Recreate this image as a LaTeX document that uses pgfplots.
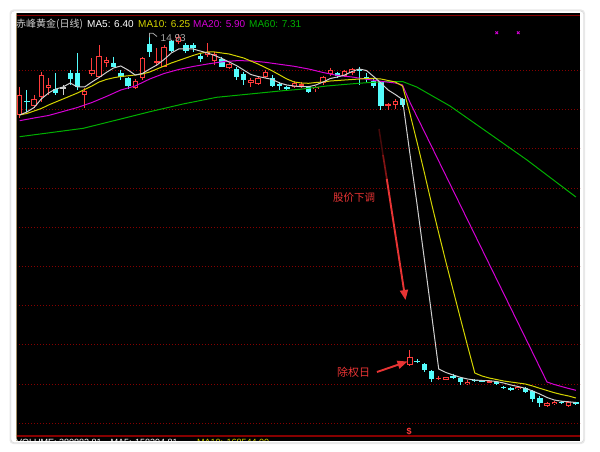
\documentclass[border=0pt]{standalone}
\usepackage{pgfplots}
\usepackage{pgfplotstable}
\pgfplotsset{compat=1.18}
\usetikzlibrary{arrows.meta}
\usepackage{fontspec}
\setmainfont{Liberation Sans}
\newfontfamily\cjk{Noto Sans CJK SC}

\definecolor{upred}{HTML}{FF3C3C}
\definecolor{dncyan}{HTML}{54FCFC}
\definecolor{ma5}{HTML}{D0D0D0}
\definecolor{ma10}{HTML}{D4D400}
\definecolor{ma20}{HTML}{D400D4}
\definecolor{ma60}{HTML}{00B000}
\definecolor{gridred}{HTML}{860000}
\definecolor{note}{HTML}{E83434}

% candles in screen units (y grows downward): body top/bottom, high, low
\pgfplotstableread{
x top bot hi lo
19.6 95 115 86.7 118
34.1 99.3 106 95 108.3
41.3 75 96.7 71.7 101.7
48.5 85 88 78 95
84.6 90.7 95 88.3 108.3
91.9 70 74.3 58.3 76
99.1 56 76.7 45 78.3
106.3 60 62.7 56.7 66.7
135.2 81 88.3 79.3 89.3
142.4 58.3 78 57.5 80
156.9 60.7 62.7 48.3 66
164.1 47.3 66.7 45 67.3
178.6 36.7 42 34.5 44
207.5 51.7 55 43.3 56.7
214.7 54 60.7 51.7 65
229.1 64.3 68.3 63 69.5
250.8 80 83.3 78.3 86.7
258.0 77.7 84.3 76.7 85
265.3 71.7 76.7 70 78
294.2 82.7 86.7 81 87.7
301.4 84.3 86.3 81.7 87.7
315.8 86.7 89.3 85.7 92.3
323.1 76.7 83.3 75.7 85
330.3 70 74.3 67.7 75.7
344.7 71 75.7 70 76.7
352.0 69 73.3 67.7 75
388.1 104.3 106 103.3 109.5
395.3 100.5 105 99 109
409.8 356.7 364.7 350 366
438.7 377.7 379 375.5 379.5
445.9 377.3 379.5 377 380
467.6 381.5 384.3 380 385
489.2 381.2 382.5 380.5 383
518.1 387 389.3 386 390
547.0 403 405.5 402 407
554.3 401.7 404 401 404.5
568.7 402.3 405.5 400.5 407
}\upc

\pgfplotstableread{
x top bot hi lo
26.8 100.5 102 90 112
55.7 89.3 93.3 73.3 95
70.2 73.3 79.3 70 85
77.4 72.7 87.3 53.3 90
113.5 63.3 66.7 56.7 67.3
120.8 73.3 77.3 70 80
128.0 78.3 86 76.7 89.3
149.7 44.5 51.7 33.5 57.5
171.3 40.7 50.7 40 51.7
185.8 45 50.7 43.3 53.3
193.0 45 48.3 43.3 51.7
200.2 56 59.3 53.3 61.7
221.9 59 66.7 56.7 67.3
236.4 69.3 76.7 66.7 80
243.6 74.3 80 71.7 85
272.5 77.7 85.7 75 86.7
279.7 84.5 85.8 81.7 90
286.9 86.7 89 85.7 90
308.6 86.7 92.3 85.7 93.3
337.5 73.3 76 71.7 77.7
359.2 69.5 70.8 66.7 85
366.4 76.7 79 73.3 81.7
373.6 81 85.7 79 87.7
380.9 82.5 106 81.7 109.5
402.5 99.3 104.5 97.7 106.7
417.0 360.5 361.8 359.3 362.7
424.2 364.3 370 363.3 371.7
431.4 370.7 379.3 370 381.7
453.1 376.2 377.5 373.5 379
460.3 378.3 381.7 376.7 385
474.8 379.5 381 379 381.5
482.0 380 381.5 379.5 382
496.5 381.7 384.3 381 385
503.7 387 388.3 386 389.3
510.9 388.3 389.7 387.3 391
525.4 388.3 391.7 387.3 392.7
532.6 390.7 399.3 390 401.7
539.8 398.3 403 395.7 407
561.5 401.7 403.3 400.7 404
575.9 402.3 403.5 401.5 404.5
}\dnc

\pgfplotstableread{
x top bot hi lo
63.0 87.5 88.7 85 95
}\doji

\pgfplotsset{
  candle/.style 2 args={draw=none, mark=none, forget plot,
    error bars/.cd, y dir=plus, y explicit, error mark=none,
    error bar style={draw=#1, line width=#2}},
}

\begin{document}
\begin{tikzpicture}[font=\fontsize{10}{12}\selectfont]
\begin{axis}[
  scale only axis, width=600pt, height=452pt,
  xmin=0, xmax=600, ymin=0, ymax=452, y dir=reverse,
  hide axis,
]
% frame and panel
\fill[white] (0,0) rectangle (600,452);
\draw[rounded corners=3pt, draw=gray!18, line width=2pt] (10.5,10.5) rectangle (584,443);
\draw[rounded corners=3pt, draw=gray!35, fill=white] (11,11) rectangle (583.5,442.5);
\fill[black] (15.5,13.3) rectangle (580.3,440.5);
\pgfplotsinvokeforeach{70.5,109.7,148.9,188.1,227.3,266.5,305.7,344.9,384.1,423.3}{
  \draw[gridred, line width=1pt, dash pattern=on 1pt off 2pt] (16,#1) -- (580,#1);
}
\draw[gridred, line width=1.6pt] (15.5,15.5) -- (580.3,15.5);
\draw[gridred, line width=1.8pt] (15.5,436) -- (580.3,436);
\draw[color={rgb,255:red,160;green,140;blue,100}, line width=0.8pt] (15.9,13.3) -- (15.9,440.5);

% candles
\addplot [candle={upred}{1pt}] table [x=x, y=hi, y error plus expr=\thisrow{lo}-\thisrow{hi}] {\upc};
\addplot [candle={upred}{5.4pt}] table [x=x, y=top, y error plus expr=\thisrow{bot}-\thisrow{top}] {\upc};
\addplot [candle={black}{3.4pt}] table [x=x, y expr=\thisrow{top}+1, y error plus expr={max(\thisrow{bot}-\thisrow{top}-2,0)}] {\upc};
\addplot [candle={dncyan}{1pt}] table [x=x, y=hi, y error plus expr=\thisrow{lo}-\thisrow{hi}] {\dnc};
\addplot [candle={dncyan}{5.4pt}] table [x=x, y=top, y error plus expr=\thisrow{bot}-\thisrow{top}] {\dnc};
\addplot [candle={ma5}{1pt}] table [x=x, y=hi, y error plus expr=\thisrow{lo}-\thisrow{hi}] {\doji};
\addplot [candle={ma5}{5.4pt}] table [x=x, y=top, y error plus expr=\thisrow{bot}-\thisrow{top}] {\doji};

% moving averages
\addplot [ma60, line width=1pt, forget plot] coordinates {
(19.6,136.7) (50,132.7) (83.3,128.3) (116.7,120) (150,111.7) (183,104) (216.7,97.3)
(250,94) (283,90.7) (300,89.3) (326.7,86) (350,84) (366.7,82.7) (383,81.7) (403,81.7)
(416.7,87) (450,106) (490,134) (527,160) (575.9,197)};
\addplot [ma20, line width=1pt, forget plot] coordinates {
(19.6,120.7) (34.1,118) (48.5,115.5) (63,111.5) (77.4,107.5) (91.9,102.5) (106.3,96.5)
(120.8,90) (135.2,86) (149.7,79) (164.1,73.5) (178.6,69.5) (193,66.5) (207.5,64)
(221.9,61.8) (236.4,60.7) (250.8,60.8) (265.3,62.3) (279.7,64.3) (294.2,66.3)
(308.6,69) (323.1,72.5) (337.5,75.5) (352,77) (366.4,79.2) (380.9,81.3) (395.3,83)
(402.5,85) (409.8,102) (547,382) (554.3,384.5) (561.5,386.5) (568.7,388.5) (575.9,390.3)};
\addplot [ma10, line width=1pt, forget plot] coordinates {
(19.6,115) (26.8,113.5) (34.1,111) (41.3,108.5) (48.5,105) (55.7,102) (63,99) (70.2,96)
(77.4,93) (84.6,89.5) (91.9,86) (99.1,82) (106.3,79.5) (113.5,77.8) (120.8,76.5)
(128,75.8) (135.2,75) (142.4,74) (149.7,72) (156.9,69) (164.1,66) (171.3,63) (178.6,60.5)
(185.8,58) (193,55.5) (200.2,53.3) (207.5,52) (214.7,52) (221.9,53) (229.1,54) (236.4,56)
(243.6,58) (250.8,61) (258,64) (265.3,67.5) (272.5,71) (279.7,75) (286.9,79) (294.2,82)
(301.4,83) (308.6,83.3) (315.8,82.5) (323.1,82) (330.3,81) (337.5,80.5) (344.7,80)
(352,79.5) (359.2,79) (366.4,78.5) (373.6,78.5) (380.9,79) (388.1,80.5) (395.3,82)
(402.5,86) (409.8,113) (417,142) (424.2,172) (431.4,203) (438.7,233) (445.9,262)
(453.1,290) (460.3,318) (467.6,346) (474.8,373) (482,376) (489.2,378) (496.5,379.5)
(503.7,381) (510.9,382) (518.1,383) (525.4,384) (532.6,386) (539.8,388.3) (547,390.5)
(554.3,392.7) (561.5,394.5) (568.7,396) (575.9,398)};
\addplot [ma5, line width=1pt, forget plot] coordinates {
(19.6,115) (26.8,112) (34.1,107.5) (41.3,99) (48.5,93) (55.7,89) (63,87) (70.2,83)
(77.4,87) (84.6,87) (91.9,82) (99.1,77.5) (106.3,72.5) (113.5,68) (120.8,66) (128,70)
(135.2,75) (142.4,73.5) (149.7,69) (156.9,65) (164.1,59.5) (171.3,53) (178.6,49)
(185.8,49) (193,49) (200.2,51) (207.5,53) (214.7,55.5) (221.9,58.5) (229.1,62)
(236.4,65.5) (243.6,70) (250.8,74.5) (258,76.5) (265.3,78) (272.5,79.5) (279.7,83)
(286.9,85) (294.2,86) (301.4,86.7) (308.6,86.7) (315.8,85) (323.1,82) (330.3,78.5)
(337.5,77) (344.7,75) (352,71.5) (359.2,69) (366.4,70.5) (373.6,76.5) (380.9,83)
(388.1,90) (395.3,94.5) (402.5,99.5) (409.8,153) (417,204) (424.2,258) (431.4,313)
(438.7,369) (445.9,372.5) (453.1,375) (460.3,377.3) (467.6,379) (474.8,380) (482,380.5)
(489.2,380.7) (496.5,381.5) (503.7,383) (510.9,385) (518.1,386.5) (525.4,388.3)
(532.6,391) (539.8,394) (547,397.5) (554.3,400) (561.5,401.2) (568.7,401.8) (575.9,402.5)};

% header
\node[anchor=west, inner sep=0, text=ma5] at (16,24) {\cjk 赤峰黄金(日线)};
\node[anchor=west, inner sep=0, text=white] at (87,24) {MA5: 6.40};
\node[anchor=west, inner sep=0, text=ma10] at (138,24) {MA10: 6.25};
\node[anchor=west, inner sep=0, text=ma20] at (193,24) {MA20: 5.90};
\node[anchor=west, inner sep=0, text=ma60] at (249,24) {MA60: 7.31};

% high marker
\draw[gray!70, line width=0.8pt] (149.5,37.5) -- (149.5,33.3) -- (153,33.3) -- (157,36.5);
\node[anchor=west, inner sep=0, text=gray!70] at (160.5,38.3) {14.93};

% small markers at top right
\draw[ma20, line width=0.9pt] (495.4,31.4) -- (498,34) (495.4,34) -- (498,31.4);
\draw[ma20, line width=0.9pt] (517,31.4) -- (519.6,34) (517,34) -- (519.6,31.4);

% annotations
\node[anchor=west, inner sep=0, text=note, font=\cjk\fontsize{10.5}{12}\selectfont] at (333,198) {股价下调};
\draw[color={rgb,255:red,70;green,10;blue,10}, line width=1.5pt] (379,129) -- (383,155);
\draw[color={rgb,255:red,130;green,20;blue,20}, line width=1.7pt] (383,155) -- (387,180);
\draw[note, line width=1.9pt, -{Triangle[length=10pt,width=8pt]}] (386.8,179) -- (405.5,300);
\node[anchor=west, inner sep=0, text=note, font=\cjk\fontsize{11}{12}\selectfont] at (337,372.5) {除权日};
\draw[note, line width=1.9pt, -{Triangle[length=10pt,width=8pt]}] (377,372) -- (407.5,361.5);
\node[inner sep=0, text=upred, font=\bfseries\fontsize{9}{10}\selectfont] at (409,431.5) {\$};

% volume caption, cut off by the frame
\begin{scope}
\clip (15.5,437.8) rectangle (580,440.5);
\node[anchor=north west, inner sep=0, text=white, font=\fontsize{9}{10}\selectfont] at (16,438.6) {VOLUME: 380882.81\quad MA5: 158394.81};
\node[anchor=north west, inner sep=0, text=ma10, font=\fontsize{9}{10}\selectfont] at (197,438.6) {MA10: 168544.00};
\end{scope}
\end{axis}
\end{tikzpicture}
\end{document}
